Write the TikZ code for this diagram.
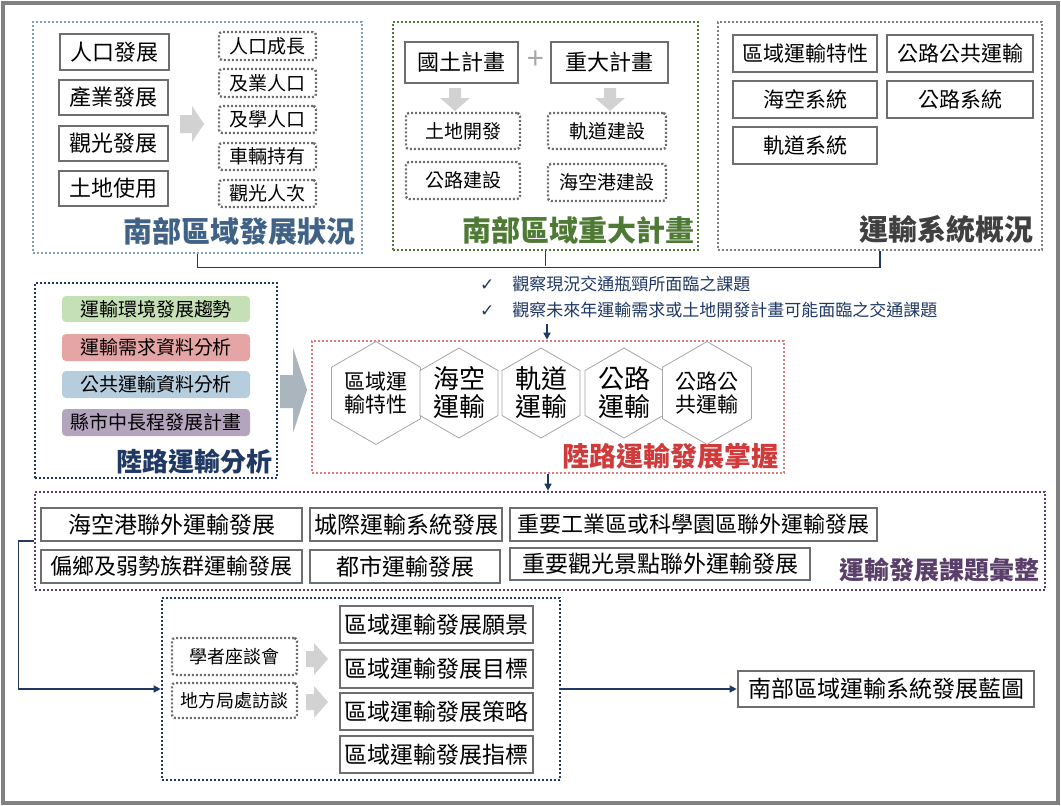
\documentclass[tikz,border=0pt]{standalone}
\usepackage{fontspec}
\setmainfont{Noto Sans CJK TC}
\newfontfamily\djv{DejaVu Sans}
\usetikzlibrary{shapes.geometric,arrows.meta}
\definecolor{navy}{HTML}{1F3864}
\definecolor{bfr}{HTML}{7F9FBF}
\definecolor{btit}{HTML}{3F6286}
\definecolor{gfr}{HTML}{4E7A35}
\definecolor{rfr}{HTML}{E07B7B}
\definecolor{rtit}{HTML}{D03A3A}
\definecolor{pfr}{HTML}{5B3F6B}
\definecolor{boxg}{HTML}{6E6E6E}
\newcommand\fz[1]{\fontsize{#1}{#1}\selectfont}
\newcommand\RB[7]{\node[#6,minimum width={#4-#2},minimum height={#5-#3}] (#1) at ({(#2+#4)/2},{(#3+#5)/2}) {#7};}
\tikzset{x=1pt,y=-1pt,
 frame/.style={draw,line width=2.6pt,dash pattern=on 2pt off 2pt,inner sep=0},
 sbox/.style={draw=boxg,line width=2.6pt,fill=white,inner sep=0,font=\fz{22}},
 dbox/.style={draw=boxg,line width=2.4pt,dash pattern=on 2pt off 2pt,rounded corners=3pt,inner sep=0,font=\fz{19}},
 cbox/.style={rounded corners=4pt,inner sep=0,font=\fz{19}},
 bbox/.style={draw=boxg,line width=2.6pt,fill=white,inner sep=0,font=\fz{23}},
 hex/.style={regular polygon,regular polygon sides=6,shape border rotate=30,minimum size=90pt,draw=gray!70,line width=0.8pt,fill=white,inner sep=0,align=center},
 tit/.style={font=\fz{29}\bfseries,inner sep=0},
 conn/.style={draw=navy,line width=1.5pt},
 arr/.style={conn,-{Triangle[length=7pt,width=7pt]}},
 garr/.style={fill=gray!35,draw=none}}
\begin{document}
\begin{tikzpicture}
\useasboundingbox (0,0) rectangle (1061,806);
\draw[gray,line width=4pt] (3,3) rectangle (1058,803);
% box 1
\RB{b1}{33}{22}{362}{253}{frame,draw=bfr}{}
\node[tit,text=btit,anchor=south east] at (356,246) {南部區域發展狀況};
\RB{p1}{60}{34}{169}{70}{sbox}{人口發展}
\RB{p2}{59}{80}{168}{115}{sbox}{產業發展}
\RB{p3}{59}{126}{168}{161}{sbox}{觀光發展}
\RB{p4}{59}{171}{168}{206}{sbox}{土地使用}
\fill[garr] (180,115) -- (192,115) -- (192,106) -- (204,124) -- (192,142) -- (192,133) -- (180,133) -- cycle;
\RB{q1}{219}{32}{316}{60}{dbox}{人口成長}
\RB{q2}{219}{69}{316}{97}{dbox}{及業人口}
\RB{q3}{219}{106}{316}{133}{dbox}{及學人口}
\RB{q4}{219}{143}{316}{170}{dbox}{車輛持有}
\RB{q5}{219}{180}{316}{207}{dbox}{觀光人次}
% box 2
\RB{b2}{393}{22}{698}{250}{frame,draw=gfr}{}
\node[tit,text=gfr,anchor=south] at (578,244) {南部區域重大計畫};
\RB{g1}{405}{42}{518}{83}{sbox}{國土計畫}
\RB{g2}{551}{42}{668}{83}{sbox}{重大計畫}
\node[font=\fz{30},text=gray!70,inner sep=0] (plus) at (536,60) {+};
\fill[garr] (449,88) -- (461,88) -- (461,98) -- (470,98) -- (455,111) -- (440,98) -- (449,98) -- cycle;
\fill[garr] (604,88) -- (616,88) -- (616,98) -- (625,98) -- (610,111) -- (595,98) -- (604,98) -- cycle;
\RB{g3}{406}{113}{520}{149}{dbox}{土地開發}
\RB{g4}{548}{113}{666}{149}{dbox}{軌道建設}
\RB{g5}{406}{162}{520}{199}{dbox}{公路建設}
\RB{g6}{548}{164}{666}{201}{dbox}{海空港建設}
% box 3
\RB{b3}{718}{22}{1042}{250}{frame,draw=gray}{}
\node[tit,text=black!75,anchor=south east] at (1034,244) {運輸系統概況};
\RB{t1}{733}{35}{877}{72}{sbox,font=\fz{21}}{區域運輸特性}
\RB{t2}{887}{35}{1033}{72}{sbox,font=\fz{21}}{公路公共運輸}
\RB{t3}{733}{81}{877}{118}{sbox,font=\fz{21}}{海空系統}
\RB{t4}{887}{81}{1033}{118}{sbox,font=\fz{21}}{公路系統}
\RB{t5}{733}{127}{877}{164}{sbox,font=\fz{21}}{軌道系統}
% check text
\node[text=navy,anchor=west,font=\fz{17},inner sep=0] (c1) at (480,284) {{\djv ✓}\hspace{18pt}觀察現況交通瓶頸所面臨之課題};
\node[text=navy,anchor=west,font=\fz{17},inner sep=0] (c2) at (480,310) {{\djv ✓}\hspace{18pt}觀察未來年運輸需求或土地開發計畫可能面臨之交通課題};
% box 4
\RB{b4}{35}{283}{277}{478}{frame,draw=navy}{}
\node[tit,text=navy,font=\fz{26}\bfseries,anchor=south east] at (273,474) {陸路運輸分析};
\RB{k1}{62}{296}{250}{322}{cbox,fill={rgb,255:red,197;green,224;blue,180}}{運輸環境發展趨勢}
\RB{k2}{62}{334}{250}{361}{cbox,fill={rgb,255:red,230;green,165;blue,165}}{運輸需求資料分析}
\RB{k3}{62}{371}{250}{398}{cbox,fill={rgb,255:red,182;green,205;blue,222}}{公共運輸資料分析}
\RB{k4}{62}{409}{250}{436}{cbox,fill={rgb,255:red,180;green,164;blue,190}}{縣市中長程發展計畫}
\fill[fill={rgb,255:red,170;green,181;blue,190}] (280,375) -- (293,375) -- (293,348) -- (307,390) -- (293,433) -- (293,408) -- (280,408) -- cycle;
% box 5
\RB{b5}{312}{341}{784}{473}{frame,draw=rfr}{}
\node[tit,text=rtit,font=\fz{27}\bfseries,anchor=south east] at (779,470) {陸路運輸發展掌握};
\node[hex,font=\fz{21}] (h1) at (376,393) {區域運\\[2pt]輸特性};
\node[hex,font=\fz{26}] (h2) at (459,393) {海空\\[2pt]運輸};
\node[hex,font=\fz{26}] (h3) at (541,393) {軌道\\[2pt]運輸};
\node[hex,font=\fz{26}] (h4) at (624,393) {公路\\[2pt]運輸};
\node[hex,font=\fz{21}] (h5) at (707,393) {公路公\\[2pt]共運輸};
% box 6
\RB{b6}{35}{492}{1045}{590}{frame,draw=pfr}{}
\node[tit,text=pfr,font=\fz{25}\bfseries,anchor=south east] at (1040,582) {運輸發展課題彙整};
\RB{m1}{41}{508}{302}{541}{bbox}{海空港聯外運輸發展}
\RB{m2}{310}{508}{502}{541}{bbox}{城際運輸系統發展}
\RB{m3}{510}{508}{877}{541}{bbox,font=\fz{22}}{重要工業區或科學園區聯外運輸發展}
\RB{m4}{41}{550}{302}{583}{bbox,font=\fz{22}}{偏鄉及弱勢族群運輸發展}
\RB{m5}{310}{550}{500}{583}{bbox}{都市運輸發展}
\RB{m6}{510}{548}{810}{580}{bbox}{重要觀光景點聯外運輸發展}
% box 7
\RB{b7}{162}{598}{560}{780}{frame,draw=navy}{}
\RB{s1}{172}{638}{297}{675}{dbox,font=\fz{18}}{學者座談會}
\RB{s2}{172}{683}{297}{718}{dbox,font=\fz{18}}{地方局處訪談}
\fill[garr] (306,651) -- (314,651) -- (314,643) -- (328,659) -- (314,675) -- (314,667) -- (306,667) -- cycle;
\fill[garr] (306,694) -- (314,694) -- (314,686) -- (328,702) -- (314,718) -- (314,710) -- (306,710) -- cycle;
\RB{r1}{340}{606}{533}{643}{bbox}{區域運輸發展願景}
\RB{r2}{340}{650}{533}{688}{bbox}{區域運輸發展目標}
\RB{r3}{340}{693}{533}{730}{bbox}{區域運輸發展策略}
\RB{r4}{340}{736}{533}{773}{bbox}{區域運輸發展指標}
\RB{fin}{738}{671}{1034}{707}{bbox}{南部區域運輸系統發展藍圖}
% connectors
\coordinate (jn) at (547,266);
\coordinate (as) at (547,324);
\draw[conn] (b1.south) -- ++(0,13) -| (b3.south);
\draw[conn] (b2.south) -- (b2.south |- jn);
\draw[arr] (as) -- (as |- b5.north);
\draw[arr] (b5.south) -- (b5.south |- b6.north);
\draw[arr] (b6.west) -- ++(-15,0) |- (b7.west);
\draw[arr] (b7.east) -- (fin.west);
\end{tikzpicture}
\end{document}
